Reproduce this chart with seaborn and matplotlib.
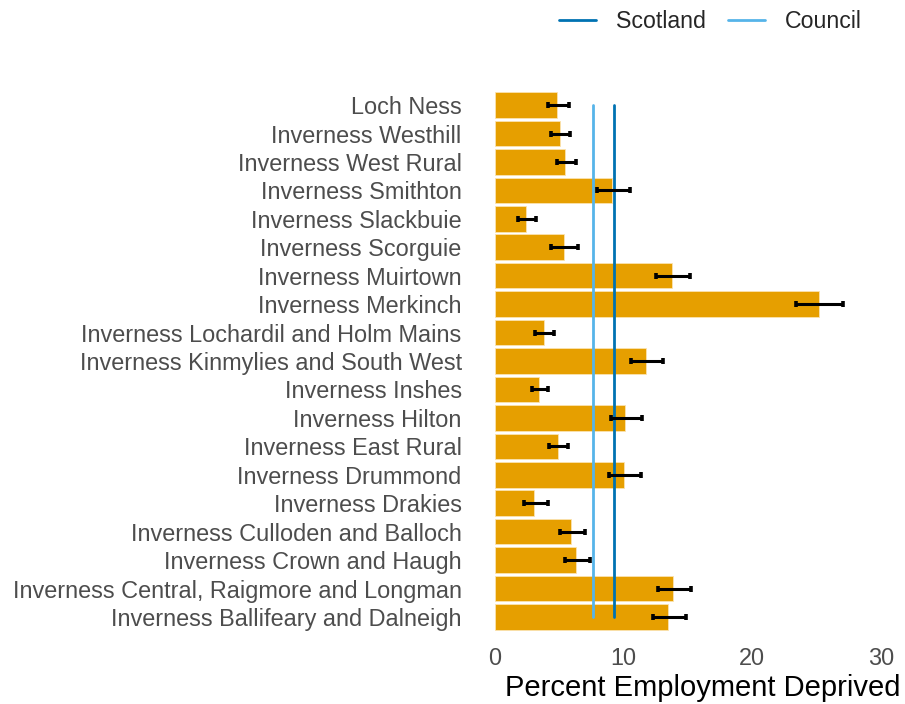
import matplotlib
matplotlib.use("Agg")
import matplotlib.pyplot as plt
import seaborn as sns
import pandas as pd
import numpy as np
from matplotlib.lines import Line2D

categories = [
    "Loch Ness", "Inverness Westhill", "Inverness West Rural", "Inverness Smithton",
    "Inverness Slackbuie", "Inverness Scorguie", "Inverness Muirtown", "Inverness Merkinch",
    "Inverness Lochardil and Holm Mains", "Inverness Kinmylies and South West",
    "Inverness Inshes", "Inverness Hilton", "Inverness East Rural", "Inverness Drummond",
    "Inverness Drakies", "Inverness Culloden and Balloch", "Inverness Crown and Haugh",
    "Inverness Central, Raigmore and Longman", "Inverness Ballifeary and Dalneigh",
]
values = [4.85, 5.05, 5.47, 9.12, 2.39, 5.34, 13.75, 25.2, 3.78, 11.71,
          3.42, 10.1, 4.87, 10.05, 3.03, 5.94, 6.32, 13.83, 13.44]
lower = [4.12, 4.38, 4.79, 7.96, 1.82, 4.38, 12.49, 23.44, 3.14, 10.54,
         2.87, 8.99, 4.23, 8.89, 2.28, 5.08, 5.47, 12.64, 12.25]
upper = [5.75, 5.83, 6.27, 10.47, 3.16, 6.48, 15.15, 27.07, 4.58, 13.03,
         4.12, 11.4, 5.67, 11.38, 4.09, 6.99, 7.38, 15.21, 14.82]
scotland_value = 9.28
council_value = 7.65
x_ticks = [0, 10, 20, 30]

sns.set_style("white")
plt.rcParams['font.family'] = ['Liberation Sans', 'DejaVu Sans']

df = pd.DataFrame({"area": categories, "value": values, "lo": lower, "hi": upper})

fig = plt.figure(figsize=(9.05, 7.04), dpi=100)
ax = fig.add_axes([0.547, 0.0994, 0.4475, 0.7756])

sns.barplot(data=df, x="value", y="area", orient="h", color="#E69F00",
            saturation=1, width=0.9, edgecolor="#FBE3B0", linewidth=0.6, ax=ax)

ypos = np.arange(len(categories))
ax.errorbar(x=df["value"], y=ypos,
            xerr=[df["value"] - df["lo"], df["hi"] - df["value"]],
            fmt="none", ecolor="black", elinewidth=2.2, capsize=2.5, capthick=2.6, zorder=4)

ax.plot([scotland_value, scotland_value], [0, len(categories) - 1], color="#0072B2", lw=2, zorder=3)
ax.plot([council_value, council_value], [0, len(categories) - 1], color="#56B4E9", lw=2, zorder=3)

ax.set_xlim(0, 31.5)
ax.set_ylim(len(categories) - 1 + 0.6, -0.6)
ax.set_xticks(x_ticks)
ax.set_xticklabels([str(t) for t in x_ticks])
ax.tick_params(axis="both", length=0, labelsize=16.9, labelcolor="#4D4D4D")
ax.tick_params(axis="y", pad=24)
ax.tick_params(axis="x", pad=9)
ax.set_ylabel("")
ax.set_xlabel("Percent Employment Deprived", fontsize=21, color="black")
ax.xaxis.set_label_coords(1.0, -0.074)
ax.xaxis.label.set_horizontalalignment("right")
for s in ax.spines.values():
    s.set_visible(False)
ax.grid(False)

handles = [Line2D([0], [0], color="#0072B2", lw=2),
           Line2D([0], [0], color="#56B4E9", lw=2)]
fig.legend(handles, ["Scotland", "Council"], loc="center", bbox_to_anchor=(0.785, 0.97),
           ncol=2, frameon=False, fontsize=16.7, handlelength=1.6, columnspacing=0.95,
           handletextpad=0.86)

fig.savefig("out.png", dpi=100)
